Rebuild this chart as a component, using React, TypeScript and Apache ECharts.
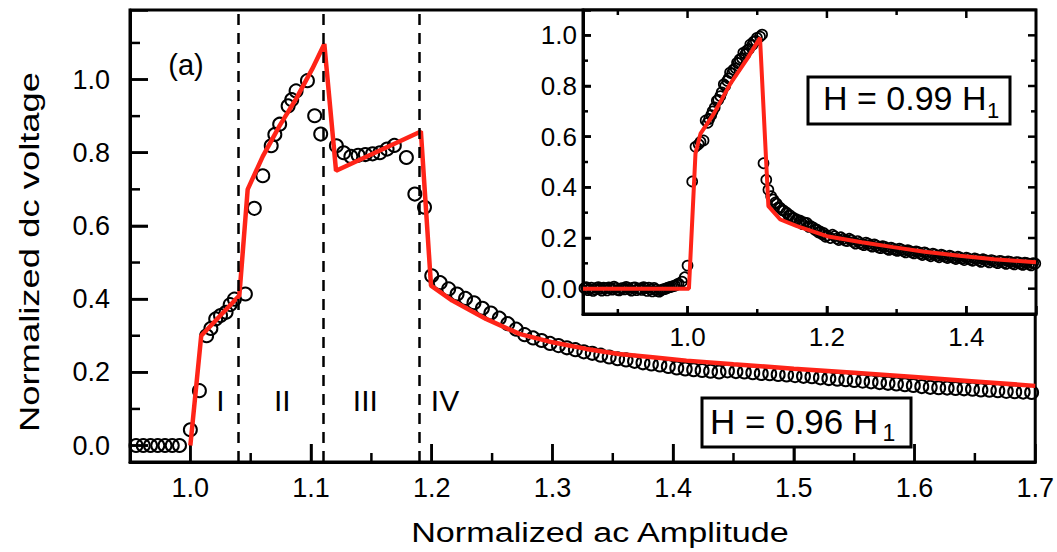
import React, { useEffect, useRef } from "react";
import * as echarts from "echarts";

const FONT = "'Liberation Sans', Arial, Helvetica, sans-serif";
const RED = "#ff2418";

// Tick labels
const mainXLabels = [1.0, 1.1, 1.2, 1.3, 1.4, 1.5, 1.6, 1.7];
const mainYLabels = [0.0, 0.2, 0.4, 0.6, 0.8, 1.0];
const insetXLabels = [1.0, 1.2, 1.4];
const insetYLabels = [0.0, 0.2, 0.4, 0.6, 0.8, 1.0];

// Tick positions
const mainXMajor = [1.0, 1.1, 1.2, 1.3, 1.4, 1.5, 1.6];
const mainXMinor = [1.05, 1.15, 1.25, 1.35, 1.45, 1.55, 1.65];
const mainYMajor = [0.0, 0.2, 0.4, 0.6, 0.8, 1.0];
const mainYMinor = [0.1, 0.3, 0.5, 0.7, 0.9, 1.1];
const insetXMajor = [1.0, 1.2, 1.4];
const insetXMinor = [0.9, 1.1, 1.3];
const insetYMajor = [0.0, 0.2, 0.4, 0.6, 0.8, 1.0];
const insetYMinor = [0.1, 0.3, 0.5, 0.7, 0.9];

// Region boundaries (dashed lines) and labels
const dividers = [1.042, 1.112, 1.188];
const regionLabels = [
  { name: "I", x: 1.025, y: 0.122 },
  { name: "II", x: 1.0762, y: 0.122 },
  { name: "III", x: 1.145, y: 0.122 },
  { name: "IV", x: 1.211, y: 0.122 },
];

// Main panel: measured points (H = 0.96 H1)
const mainLowPoints = [
  [0.955, 0.0], [0.961, 0.0], [0.967, 0.0], [0.973, 0.0], [0.979, 0.0], [0.985, 0.0], [0.991, 0.0],
  [1.0, 0.043], [1.0075, 0.15], [1.0135, 0.3], [1.017, 0.32], [1.021, 0.346], [1.025, 0.355],
  [1.0296, 0.364], [1.033, 0.385], [1.0365, 0.4], [1.0456, 0.414],
];
const mainRegion2Points = [
  [1.053, 0.648], [1.06, 0.737], [1.067, 0.819], [1.07, 0.85], [1.074, 0.878], [1.081, 0.928],
  [1.084, 0.945], [1.0876, 0.969], [1.097, 0.997], [1.103, 0.901], [1.108, 0.851],
];
const mainRegion3Points = [
  [1.121, 0.819], [1.127, 0.8], [1.133, 0.79], [1.139, 0.793], [1.145, 0.795], [1.151, 0.797],
  [1.157, 0.8], [1.163, 0.81], [1.169, 0.82], [1.179, 0.787], [1.186, 0.687], [1.194, 0.651],
];
const mainTailPoints = [
  [1.2, 0.464], [1.207, 0.445], [1.214, 0.428], [1.221, 0.414], [1.228, 0.402], [1.235, 0.39],
  [1.242, 0.375], [1.249, 0.362], [1.256, 0.348], [1.263, 0.333], [1.27, 0.318], [1.277, 0.303],
  [1.284, 0.294], [1.291, 0.287], [1.298, 0.279], [1.305, 0.273], [1.312, 0.267], [1.319, 0.262],
  [1.326, 0.256], [1.333, 0.252], [1.34, 0.247], [1.347, 0.242], [1.354, 0.237], [1.361, 0.234],
  [1.368, 0.23], [1.375, 0.226], [1.382, 0.223], [1.389, 0.22], [1.396, 0.216], [1.403, 0.212],
  [1.41, 0.209], [1.417, 0.207], [1.424, 0.205], [1.431, 0.203], [1.438, 0.201], [1.445, 0.204],
  [1.452, 0.202], [1.459, 0.201], [1.466, 0.199], [1.473, 0.197], [1.48, 0.196], [1.487, 0.194],
  [1.494, 0.193], [1.501, 0.191], [1.508, 0.189], [1.515, 0.188], [1.522, 0.185], [1.529, 0.183],
  [1.536, 0.181], [1.543, 0.18], [1.55, 0.178], [1.557, 0.176], [1.564, 0.174], [1.571, 0.172],
  [1.578, 0.17], [1.585, 0.168], [1.592, 0.166], [1.599, 0.164], [1.606, 0.161], [1.613, 0.159],
  [1.62, 0.158], [1.627, 0.157], [1.634, 0.156], [1.641, 0.155], [1.648, 0.154], [1.655, 0.152],
  [1.662, 0.151], [1.669, 0.15], [1.676, 0.148], [1.683, 0.147], [1.69, 0.146], [1.697, 0.145],
];

// Main panel: model curve
const mainFit = [
  [1.0, 0.0], [1.009, 0.3], [1.0406, 0.41], [1.0475, 0.7], [1.06, 0.79], [1.074, 0.874],
  [1.0876, 0.947], [1.101, 1.029], [1.111, 1.097], [1.1207, 0.751], [1.191, 0.858], [1.1994, 0.437],
  [1.217, 0.396], [1.245, 0.346], [1.2726, 0.305], [1.3, 0.282], [1.328, 0.264], [1.355, 0.25],
  [1.383, 0.241], [1.411, 0.232], [1.45, 0.222], [1.5, 0.21], [1.55, 0.199], [1.6, 0.187],
  [1.65, 0.175], [1.7, 0.163],
];

// Inset: measured points (H = 0.99 H1)
const insetFlatPoints = [
  [0.852, 0.002], [0.857, -0.006], [0.862, 0.004], [0.867, -0.003], [0.872, 0.006], [0.877, -0.008],
  [0.882, 0.001], [0.887, 0.005], [0.892, -0.004], [0.897, 0.003], [0.902, -0.007], [0.907, 0.002],
  [0.912, 0.007], [0.917, -0.002], [0.922, 0.004], [0.927, -0.006], [0.932, 0.001], [0.937, 0.006],
  [0.942, -0.009], [0.947, -0.003], [0.952, 0.003], [0.957, -0.01], [0.962, -0.006], [0.967, -0.002],
  [0.972, 0.004], [0.977, 0.008], [0.982, 0.012], [0.987, 0.02], [0.992, 0.028], [0.996, 0.045],
  [1.0, 0.091],
  [0.8545, 0.006], [0.8595, -0.002], [0.8645, -0.009], [0.8695, 0.003], [0.8745, -0.001], [0.8795, 0.004],
  [0.8845, -0.007], [0.8895, 0.002], [0.8945, 0.008], [0.8995, -0.005], [0.9045, 0.001], [0.9095, -0.003],
  [0.9145, 0.003], [0.9195, -0.008], [0.9245, 0.005], [0.9295, 0.0], [0.9345, -0.005], [0.9395, 0.002],
  [0.9445, 0.004], [0.9495, -0.011], [0.9545, -0.004], [0.9595, -0.012], [0.9645, -0.003], [0.9695, 0.001],
  [0.9745, 0.006], [0.9795, 0.01], [0.9845, 0.016],
];
const insetRisePoints = [
  [1.0067, 0.423], [1.0114, 0.56], [1.016, 0.57], [1.0186, 0.58], [1.023, 0.585], [1.026, 0.664],
  [1.031, 0.67], [1.036, 0.7], [1.042, 0.742], [1.047, 0.76], [1.052, 0.807], [1.057, 0.82],
  [1.061, 0.853], [1.066, 0.865], [1.071, 0.892], [1.075, 0.905], [1.08, 0.931], [1.085, 0.94],
  [1.09, 0.964], [1.095, 0.975], [1.0996, 0.99], [1.104, 0.995], [1.107, 1.003],
  [1.029, 0.655], [1.034, 0.685], [1.039, 0.715], [1.044, 0.745], [1.049, 0.775], [1.054, 0.8],
  [1.059, 0.83], [1.064, 0.85], [1.069, 0.87], [1.073, 0.89], [1.078, 0.91], [1.083, 0.925],
  [1.088, 0.945], [1.093, 0.962], [1.098, 0.978],
];
const insetFallPoints = [
  [1.109, 0.495], [1.116, 0.39], [1.12, 0.365], [1.123, 0.352], [1.128, 0.335], [1.133, 0.319],
  [1.138, 0.308], [1.142, 0.3], [1.147, 0.29], [1.152, 0.28], [1.157, 0.273], [1.162, 0.268],
  [1.167, 0.262], [1.171, 0.26], [1.176, 0.248], [1.18, 0.242], [1.185, 0.234], [1.19, 0.226],
  [1.195, 0.22], [1.2, 0.21],
  [1.113, 0.43], [1.126, 0.34], [1.131, 0.322], [1.136, 0.31], [1.145, 0.288], [1.15, 0.279],
  [1.155, 0.27], [1.16, 0.262], [1.165, 0.255], [1.174, 0.244], [1.183, 0.232], [1.188, 0.222],
  [1.193, 0.215], [1.198, 0.205],
];
const insetTailPoints = [
  [1.205, 0.2], [1.211, 0.207], [1.217, 0.192], [1.223, 0.196], [1.229, 0.188], [1.235, 0.192],
  [1.241, 0.178], [1.247, 0.181], [1.253, 0.172], [1.259, 0.178], [1.265, 0.166], [1.271, 0.17],
  [1.277, 0.16], [1.283, 0.165], [1.289, 0.153], [1.295, 0.158], [1.301, 0.149], [1.307, 0.154],
  [1.313, 0.143], [1.319, 0.148], [1.325, 0.139], [1.331, 0.144], [1.337, 0.133], [1.343, 0.139],
  [1.349, 0.128], [1.355, 0.135], [1.361, 0.124], [1.367, 0.131], [1.373, 0.121], [1.379, 0.127],
  [1.385, 0.117], [1.391, 0.123], [1.397, 0.113], [1.403, 0.119], [1.409, 0.11], [1.415, 0.116],
  [1.421, 0.106], [1.427, 0.113], [1.433, 0.104], [1.439, 0.11], [1.445, 0.101], [1.451, 0.108],
  [1.457, 0.098], [1.463, 0.106], [1.469, 0.096], [1.475, 0.104], [1.481, 0.094], [1.487, 0.101],
  [1.493, 0.092], [1.499, 0.099],
  [1.208, 0.213], [1.214, 0.198], [1.22, 0.203], [1.226, 0.19], [1.232, 0.197], [1.238, 0.184],
  [1.244, 0.188], [1.25, 0.176], [1.256, 0.182], [1.262, 0.171], [1.268, 0.175], [1.274, 0.163],
  [1.28, 0.168], [1.286, 0.158], [1.292, 0.162], [1.298, 0.153], [1.304, 0.158], [1.31, 0.148],
  [1.316, 0.152], [1.322, 0.143], [1.328, 0.147], [1.334, 0.138], [1.34, 0.143], [1.346, 0.133],
  [1.352, 0.138], [1.358, 0.129], [1.364, 0.134], [1.37, 0.125], [1.376, 0.13], [1.382, 0.121],
  [1.388, 0.126], [1.394, 0.118], [1.4, 0.122], [1.406, 0.114], [1.412, 0.119], [1.418, 0.111],
  [1.424, 0.116], [1.43, 0.108], [1.436, 0.113], [1.442, 0.105], [1.448, 0.11], [1.454, 0.103],
  [1.46, 0.108], [1.466, 0.1], [1.472, 0.105], [1.478, 0.098], [1.484, 0.103], [1.49, 0.096],
  [1.496, 0.101],
];

// Inset: model curve
const insetFit = [
  [0.85, 0.0], [1.002, 0.0], [1.0114, 0.534], [1.0186, 0.612], [1.0376, 0.69], [1.061, 0.807],
  [1.085, 0.905], [1.104, 0.99], [1.116, 0.326], [1.133, 0.273], [1.157, 0.247], [1.2, 0.207],
  [1.25, 0.183], [1.295, 0.164], [1.34, 0.146], [1.39, 0.13], [1.44, 0.116], [1.5, 0.104],
];

const mainPoints = [...mainLowPoints, ...mainRegion2Points, ...mainRegion3Points, ...mainTailPoints];
const insetPoints = [...insetFlatPoints, ...insetRisePoints, ...insetFallPoints, ...insetTailPoints];

const MAIN_X = [0.95, 1.7];
const MAIN_Y = [-0.045, 1.19];
const INSET_X = [0.85, 1.5];
const INSET_Y = [-0.1, 1.1];

function axis(
  gridIndex: number,
  position: string,
  ext: number[],
  splitNumber: number,
  tickLen: number,
  opts: { line?: boolean; labels?: number[]; labelSize?: number; labelMargin?: number } = {}
) {
  const labels = opts.labels;
  return {
    type: "value",
    gridIndex,
    position,
    min: ext[0],
    max: ext[1],
    splitNumber,
    splitLine: { show: false },
    axisLine: { show: !!opts.line, onZero: false, lineStyle: { color: "#000", width: 3 } },
    axisTick: { show: true, inside: true, length: tickLen, lineStyle: { color: "#000", width: 2.5 } },
    minorTick: { show: false },
    axisLabel: labels
      ? {
          show: true,
          showMinLabel: true,
          showMaxLabel: true,
          formatter: (v: number) => (labels.some((l) => Math.abs(l - v) < 1e-6) ? v.toFixed(1) : ""),
          fontSize: opts.labelSize,
          fontFamily: FONT,
          color: "#000",
          margin: opts.labelMargin,
        }
      : { show: false },
  };
}

const txt = (text: string, x: number, y: number, fontSize: number, align: string, extra: any = {}) => ({
  type: "text",
  x,
  y,
  z: 101,
  ...extra,
  style: {
    text,
    fontSize,
    fontFamily: FONT,
    fill: "#000",
    align,
    verticalAlign: "middle",
    textAlign: align,
    textVerticalAlign: "middle",
  },
});

export default function App() {
  const ref = useRef<HTMLDivElement>(null);

  useEffect(() => {
    if (!ref.current) return;
    const chart = echarts.init(ref.current, undefined, { renderer: "svg" });

    const option: any = {
      animation: false,
      grid: [
        { left: 130, top: 10, width: 906, height: 452, show: true, borderColor: "#000", borderWidth: 3 },
        { left: 583, top: 10, width: 453, height: 304, show: true, borderColor: "#000", borderWidth: 3, backgroundColor: "#fff" },
      ],
      xAxis: [
        axis(0, "bottom", MAIN_X, 7, 18, { line: true, labels: mainXLabels, labelSize: 27, labelMargin: 12 }),
        axis(1, "bottom", INSET_X, 3, 8, { line: true, labels: insetXLabels, labelSize: 26, labelMargin: 10 }),
      ],
      yAxis: [
        axis(0, "left", MAIN_Y, 6, 18, { line: true, labels: mainYLabels, labelSize: 27, labelMargin: 20 }),
        axis(1, "left", INSET_Y, 6, 8, { line: true, labels: insetYLabels, labelSize: 26, labelMargin: 6 }),
      ],
      series: [
        {
          type: "scatter",
          xAxisIndex: 0,
          yAxisIndex: 0,
          data: mainPoints,
          symbol: "circle",
          symbolSize: 13,
          itemStyle: { color: "rgba(0,0,0,0)", borderColor: "#000", borderWidth: 2, opacity: 1 },
          silent: true,
          z: 2,
        },
        {
          type: "line",
          xAxisIndex: 0,
          yAxisIndex: 0,
          data: mainFit,
          showSymbol: false,
          symbol: "none",
          lineStyle: { color: RED, width: 4.5 },
          silent: true,
          z: 3,
          markLine: {
            silent: true,
            symbol: ["none", "none"],
            label: { show: false },
            lineStyle: { color: "#000", width: 2.5, type: [11, 8] },
            data: dividers.map((d) => ({ xAxis: d })),
          },
        },
        {
          type: "scatter",
          xAxisIndex: 0,
          yAxisIndex: 0,
          data: regionLabels.map((r) => ({ name: r.name, value: [r.x, r.y] })),
          symbolSize: 0,
          silent: true,
          itemStyle: { opacity: 1 },
          label: {
            show: true,
            position: "inside",
            formatter: (p: any) => p.name,
            fontSize: 30,
            fontFamily: FONT,
            color: "#000",
          },
          z: 4,
        },
        {
          type: "scatter",
          xAxisIndex: 1,
          yAxisIndex: 1,
          data: insetPoints,
          symbol: "circle",
          symbolSize: 10,
          itemStyle: { color: "rgba(0,0,0,0)", borderColor: "#000", borderWidth: 1.7, opacity: 1 },
          silent: true,
          z: 5,
        },
        {
          type: "line",
          xAxisIndex: 1,
          yAxisIndex: 1,
          data: insetFit,
          showSymbol: false,
          symbol: "none",
          lineStyle: { color: RED, width: 4 },
          silent: true,
          z: 6,
        },
      ],
    };

    chart.setOption(option);

    // Tick marks placed through the chart's own axis scales
    const tickEls: any[] = [];
    const addTicks = (xIdx: number, xExt: number[], yExt: number[], values: number[], side: number, len: number) => {
      values.forEach((v) => {
        try {
          const finder = { xAxisIndex: xIdx, yAxisIndex: xIdx };
          let p: any;
          let d: number[];
          if (side === 0) {
            p = chart.convertToPixel(finder, [v, yExt[0]]);
            d = [0, -len];
          } else if (side === 1) {
            p = chart.convertToPixel(finder, [v, yExt[1]]);
            d = [0, len];
          } else if (side === 2) {
            p = chart.convertToPixel(finder, [xExt[0], v]);
            d = [len, 0];
          } else {
            p = chart.convertToPixel(finder, [xExt[1], v]);
            d = [-len, 0];
          }
          if (!p || !isFinite(p[0]) || !isFinite(p[1])) return;
          tickEls.push({
            type: "line",
            shape: { x1: p[0], y1: p[1], x2: p[0] + d[0], y2: p[1] + d[1] },
            style: { stroke: "#000", lineWidth: 2.5 },
          });
        } catch (e) {
          /* ignore */
        }
      });
    };
    addTicks(0, MAIN_X, MAIN_Y, mainXMajor, 0, 18);
    addTicks(0, MAIN_X, MAIN_Y, mainXMinor, 0, 9);
    addTicks(0, MAIN_X, MAIN_Y, mainYMajor, 2, 18);
    addTicks(0, MAIN_X, MAIN_Y, mainYMinor, 2, 10);
    addTicks(1, INSET_X, INSET_Y, insetXMajor, 0, 8);
    addTicks(1, INSET_X, INSET_Y, insetXMinor, 0, 5);
    addTicks(1, INSET_X, INSET_Y, insetXMajor, 1, 8);
    addTicks(1, INSET_X, INSET_Y, insetXMinor, 1, 5);
    addTicks(1, INSET_X, INSET_Y, insetYMajor, 2, 8);
    addTicks(1, INSET_X, INSET_Y, insetYMinor, 2, 5);
    addTicks(1, INSET_X, INSET_Y, insetYMajor, 3, 8);
    addTicks(1, INSET_X, INSET_Y, insetYMinor, 3, 5);

    chart.setOption({
      graphic: [
        ...tickEls,
        txt("Normalized dc voltage", 30, 252, 28, "center", { rotation: Math.PI / 2, scaleX: 1.3 }),
        txt("Normalized ac Amplitude", 600, 533, 28, "center", { scaleX: 1.22 }),
        txt("(a)", 186, 65, 29, "center"),
        {
          type: "rect",
          z: 100,
          shape: { x: 808, y: 77, width: 202, height: 47 },
          style: { fill: "#fff", stroke: "#000", lineWidth: 3 },
        },
        txt("H = 0.99 H", 823, 98, 34, "left"),
        txt("1", 993, 110, 22, "center"),
        {
          type: "rect",
          z: 100,
          shape: { x: 702, y: 398, width: 209, height: 49 },
          style: { fill: "#fff", stroke: "#000", lineWidth: 3 },
        },
        txt("H = 0.96 H", 710, 421, 35, "left"),
        txt("1", 889, 433, 23, "center"),
      ],
    });
    return () => chart.dispose();
  }, []);

  return (
    <div
      ref={ref}
      style={{ position: "fixed", left: 0, top: 0, width: 1057, height: 552, background: "#fff" }}
    />
  );
}
